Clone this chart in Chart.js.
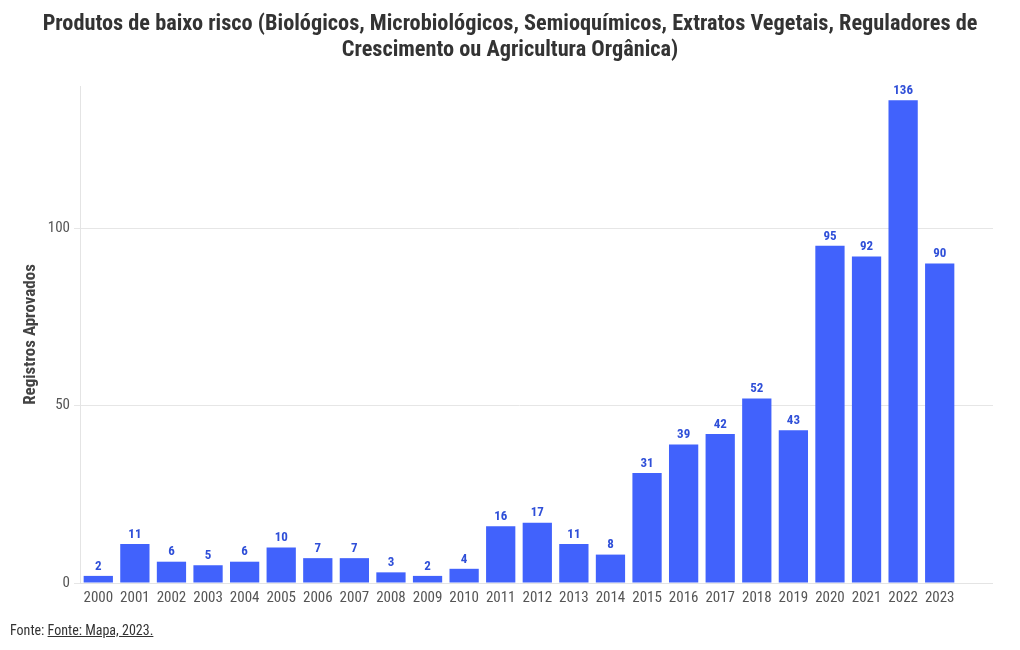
<!DOCTYPE html>
<html><head><meta charset="utf-8">
<script src="https://cdn.jsdelivr.net/npm/chart.js@4/dist/chart.umd.min.js"></script>
<style>
html,body{margin:0;padding:0;background:#fff;}
#wrap{position:relative;width:1020px;height:650px;}
#foot{position:absolute;left:10px;top:622px;font-family:"Roboto Condensed","Liberation Sans Narrow","DejaVu Sans Condensed",sans-serif;font-size:14px;color:#333;}
#foot u{color:#333;}
</style></head>
<body><div id="wrap"><canvas id="c" width="1020" height="650"></canvas>
<div id="foot">Fonte: <u>Fonte: Mapa, 2023.</u></div></div>
<script>
const FONT = '"Roboto Condensed","Liberation Sans Narrow","DejaVu Sans Condensed",sans-serif';
const categories = ['2000','2001','2002','2003','2004','2005','2006','2007','2008','2009','2010','2011','2012','2013','2014','2015','2016','2017','2018','2019','2020','2021','2022','2023'];
const registros = [2,11,6,5,6,10,7,7,3,2,4,16,17,11,8,31,39,42,52,43,95,92,136,90];
const yTicks = [0,50,100];
const titleLines = ['Produtos de baixo risco (Biológicos, Microbiológicos, Semioquímicos, Extratos Vegetais, Reguladores de','Crescimento ou Agricultura Orgânica)'];

const titlePlugin = {
  id: 'pageTitle',
  afterDraw(chart) {
    const ctx = chart.ctx;
    ctx.save();
    ctx.font = 'bold 22.3px ' + FONT;
    ctx.fillStyle = '#333';
    ctx.textAlign = 'center';
    ctx.textBaseline = 'middle';
    titleLines.forEach((t, i) => ctx.fillText(t, chart.width / 2, 24 + i * 26.5));
    ctx.restore();
  }
};

const GRID_EXTEND = 35;
const extendGrid = {
  id: 'extendGrid',
  beforeDatasetsDraw(chart) {
    const ctx = chart.ctx, y = chart.scales.y, a = chart.chartArea;
    ctx.save();
    ctx.lineWidth = 1;
    yTicks.forEach(v => {
      const py = Math.round(y.getPixelForValue(v) + 0.5) - 0.5;
      ctx.strokeStyle = v === 0 ? '#e4e4e4' : '#e6e6e6';
      ctx.beginPath(); ctx.moveTo(a.right, py); ctx.lineTo(a.right + GRID_EXTEND, py); ctx.stroke();
    });
    ctx.restore();
  }
};

const labelPlugin = {
  id: 'vals',
  afterDatasetsDraw(chart) {
    const ctx = chart.ctx;
    const meta = chart.getDatasetMeta(0);
    ctx.save();
    ctx.font = 'bold 13px ' + FONT;
    ctx.fillStyle = '#2f4fd8';
    ctx.textAlign = 'center';
    ctx.textBaseline = 'bottom';
    meta.data.forEach((bar, i) => {
      ctx.fillText(String(registros[i]), bar.x, bar.y - 3);
    });
    ctx.restore();
  }
};

new Chart(document.getElementById('c'), {
  type: 'bar',
  data: { labels: categories, datasets: [{ data: registros, backgroundColor: '#4162fc', barPercentage: 0.8, categoryPercentage: 1 }] },
  options: {
    responsive: false, animation: false,
    layout: { padding: { left: 17, right: 62, top: 86, bottom: 45 } },
    plugins: {
      legend: { display: false }, tooltip: { enabled: false }, title: { display: false }
    },
    scales: {
      x: {
        grid: { display: false }, border: { display: true, color: '#e4e4e4' },
        ticks: { color: '#555', font: { family: FONT, size: 15 }, maxRotation: 0, autoSkip: false, padding: -2 }
      },
      y: {
        min: 0, max: 140,
        afterBuildTicks: s => { s.ticks = yTicks.map(v => ({ value: v })); },
        grid: { color: '#e6e6e6', tickLength: 6, drawOnChartArea: true },
        border: { display: true, color: '#e4e4e4' },
        ticks: { color: '#555', font: { family: FONT, size: 15 }, padding: 4 },
        title: { display: true, text: 'Registros Aprovados', color: '#444', font: { family: FONT, size: 17, weight: 'bold' }, padding: { bottom: 8 } },
        afterFit: s => { s.width = 63; }
      }
    }
  },
  plugins: [titlePlugin, extendGrid, labelPlugin]
});
</script></body></html>
